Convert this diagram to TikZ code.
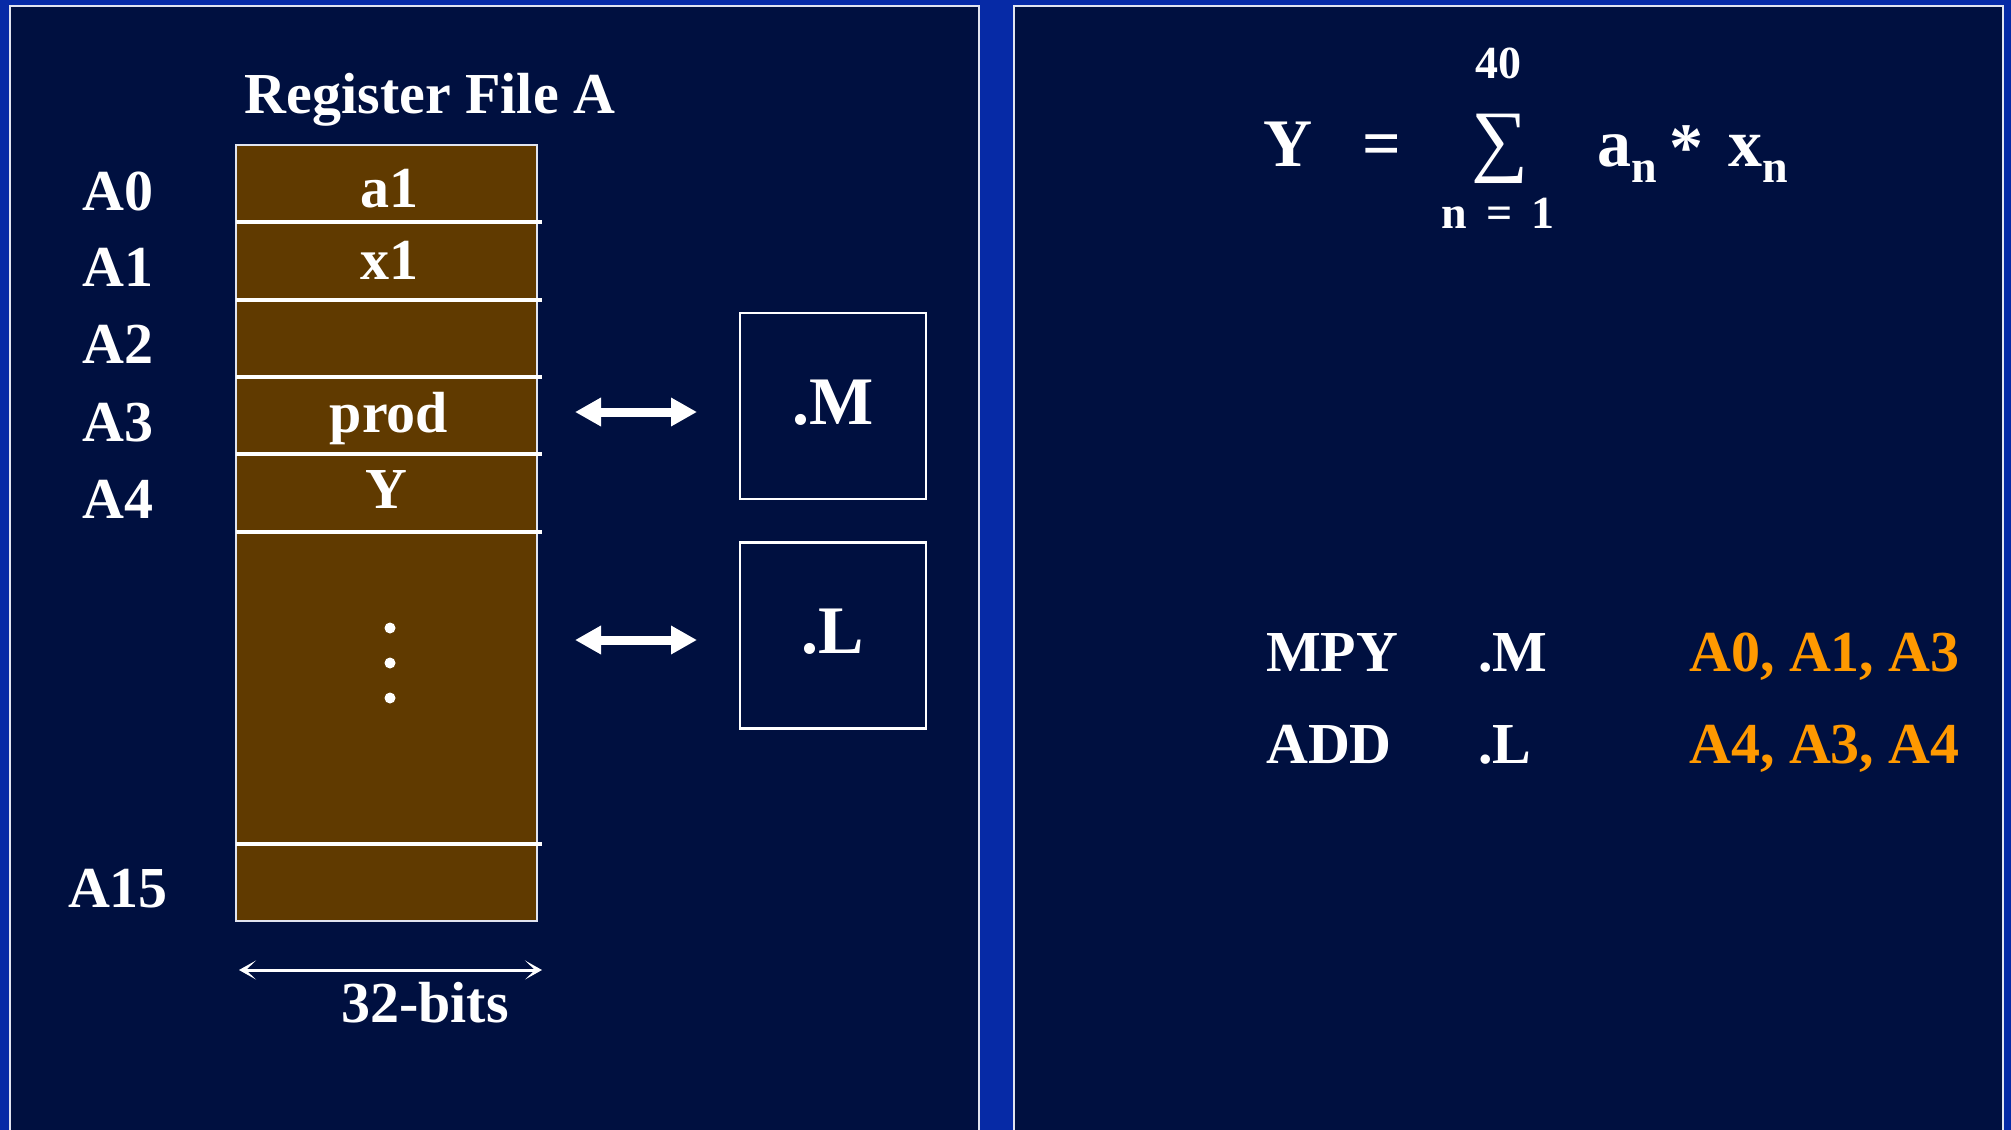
\documentclass[tikz,border=0pt]{standalone}
\usepackage{fontspec}
\setmainfont{Liberation Serif}
\usetikzlibrary{arrows.meta}
\definecolor{outerblue}{RGB}{6,42,166}
\definecolor{navy}{RGB}{0,16,64}
\definecolor{regbrown}{RGB}{96,58,0}
\definecolor{orng}{RGB}{255,153,0}
\definecolor{pborder}{RGB}{225,228,240}
\begin{document}
\begin{tikzpicture}[x=1pt,y=-1pt,
  panel/.style={draw=pborder,line width=2.5pt,fill=navy},
  txt/.style={text=white,font=\fontsize{58}{60}\selectfont\bfseries,inner sep=0pt,anchor=base},
  big/.style={txt,font=\fontsize{68}{70}\selectfont\bfseries},
  small/.style={txt,font=\fontsize{46}{48}\selectfont\bfseries},
  orange/.style={txt,text=orng,anchor=base west},
  rowline/.style={draw=white,line width=3.5pt},
  unitbox/.style={draw=white,line width=2.5pt,minimum width=186pt,minimum height=186pt,inner sep=0pt},
  bigarrow/.style={draw=white,line width=9pt,{Triangle[length=26pt,width=27pt]}-{Triangle[length=26pt,width=27pt]}},
  widtharrow/.style={draw=white,line width=3pt,{Stealth[length=17pt,width=19pt,inset=10pt]}-{Stealth[length=17pt,width=19pt,inset=10pt]}}
]
\useasboundingbox (0,0) rectangle (2011,1130);
\clip (0,0) rectangle (2011,1130);
\fill[outerblue] (0,0) rectangle (2011,1130);
\draw[panel] (10,6) rectangle (979,1150);
\draw[panel] (1014,6) rectangle (2003,1150);

% register file
\node[txt] (title) at (430,113) {Register File A};
\node[draw=pborder,line width=2pt,fill=regbrown,minimum width=301pt,minimum height=776pt,inner sep=0pt] (rf) at (386.5,533) {};
\foreach \y/\n in {222/r1,300/r2,377/r3,454/r4,532/r5,844/r15}{
  \coordinate (\n l) at (236,\y);
  \coordinate (\n r) at (542,\y);
  \draw[rowline] (\n l) -- (\n r);
}
\node[txt] (lA0) at (118,210) {A0};
\node[txt] (lA1) at (118,286) {A1};
\node[txt] (lA2) at (118,363) {A2};
\node[txt] (lA3) at (118,441) {A3};
\node[txt] (lA4) at (118,518) {A4};
\node[txt] (lA15) at (118,907) {A15};

\node[txt] (ca1) at (389,207) {a1};
\node[txt] (cx1) at (389,279) {x1};
\node[txt] (cprod) at (389,432) {prod};
\node[txt] (cY) at (386,508) {Y};
\foreach \y/\n in {628/d1,663/d2,698/d3}{
  \fill[white] (390,\y) circle (5.5pt);
}

% functional units
\node[unitbox] (M) at (833,406) {};
\node[unitbox] (L) at (833,635.5) {};
\node[big] (Mt) at (833,424) {.M};
\node[big] (Lt) at (833,653) {.L};

\coordinate (aMl) at (575,412);
\coordinate (aMr) at (697,412);
\coordinate (aLl) at (575,640);
\coordinate (aLr) at (697,640);
\draw[bigarrow] (aMl) -- (aMr);
\draw[bigarrow] (aLl) -- (aLr);

% width arrow
\coordinate (wl) at (239,970);
\coordinate (wr) at (542,970);
\draw[widtharrow] (wl) -- (wr);
\node[txt] (bits) at (425,1022) {32-bits};

% equation
\node[big,anchor=base west] (eY) at (1263,166) {Y};
\node[big] (eq) at (1382,166) {=};
\node[big,font=\fontsize{80}{80}\selectfont] (sig) at (1500,166) {∑};
\node[small] (top) at (1498,78) {40};
\node[small] (bot) at (1498,228) {n\hspace{19pt}=\hspace{19pt}1};
\node[big,anchor=base west] (ea) at (1597,166) {a};
\node[small,anchor=base west] (ean) at (1631,182) {n};
\node[big,anchor=base west] (est) at (1669,170) {*};
\node[big,anchor=base west] (ex) at (1728,166) {x};
\node[small,anchor=base west] (exn) at (1762,182) {n};

% instructions
\node[txt,anchor=base west] (mpy) at (1266,671) {MPY};
\node[txt,anchor=base west] (mpyu) at (1478,671) {.M};
\node[orange] (mpyo) at (1689,671) {A0, A1, A3};
\node[txt,anchor=base west] (add) at (1266,763) {ADD};
\node[txt,anchor=base west] (addu) at (1478,763) {.L};
\node[orange] (addo) at (1689,763) {A4, A3, A4};
\end{tikzpicture}
\end{document}
